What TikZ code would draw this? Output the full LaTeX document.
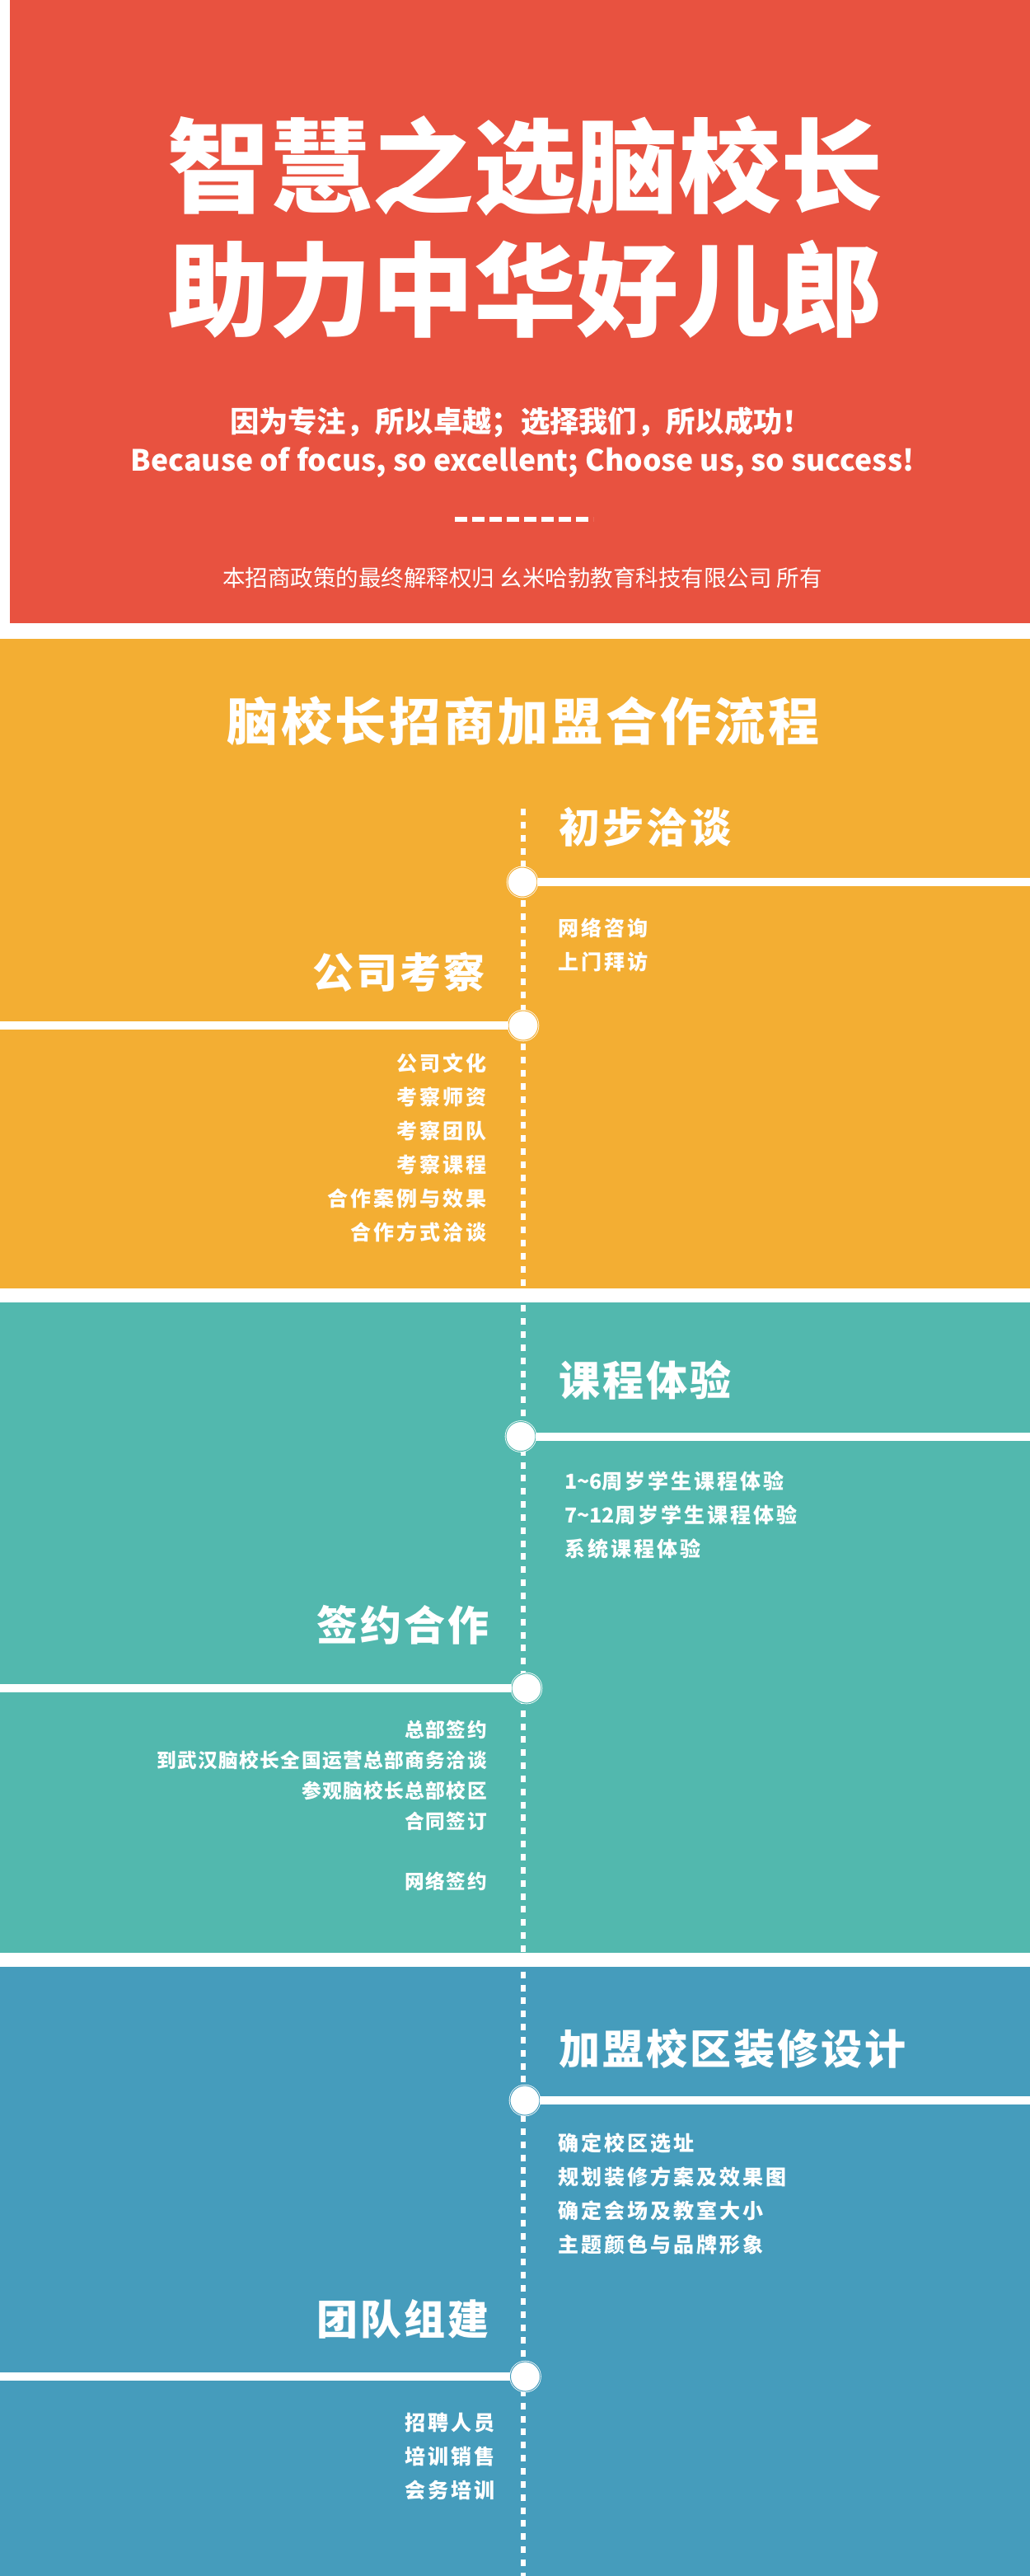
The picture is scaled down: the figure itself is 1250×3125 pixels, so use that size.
\documentclass[tikz,border=0pt]{standalone}
\usepackage{fontspec}
\setmainfont{Noto Sans CJK SC}
\newfontfamily\blackfont{Noto Sans CJK SC Black}
\newfontfamily\lightfont{Noto Sans CJK SC}
\newfontfamily\headfont[LetterSpace=6]{Noto Sans CJK SC Black}
\newfontfamily\itemfont[LetterSpace=12]{Noto Sans CJK SC Black}
\newfontfamily\tightfont[LetterSpace=6]{Noto Sans CJK SC Black}
\definecolor{cred}{HTML}{E85240}
\definecolor{cyellow}{HTML}{F3AE33}
\definecolor{cteal}{HTML}{52B8AE}
\definecolor{cblue}{HTML}{459CBC}

\begin{document}
\begin{tikzpicture}[x=1pt, y=-1pt, inner sep=0pt, text=white,
    stepdot/.style={circle, fill=white, draw=white, line width=.8pt, double=#1, double distance=1pt, minimum size=36pt},
    branch/.style={draw=white, line width=10pt},
    heading/.style={font=\headfont\fontsize{50}{58}\selectfont},
    items/.style={font=\itemfont\fontsize{25}{41}\selectfont, align=left},
    itemsr/.style={font=\itemfont\fontsize{25}{41}\selectfont, align=right}]
    \useasboundingbox (0,0) rectangle (1250,3125);

    % Bands
    \fill [white]   (0,0)    rectangle (1250,3125);
    \fill [cred]    (12,0)   rectangle (1250,756);
    \fill [cyellow] (0,775)  rectangle (1250,1563);
    \fill [cteal]   (0,1580) rectangle (1250,2369);
    \fill [cblue]   (0,2386) rectangle (1250,3125);

    % Header
    \node (title) [font=\blackfont\fontsize{124}{150}\selectfont, align=center] at (637,276) {智慧之选脑校长\\助力中华好儿郎};
    \node (slogan) [font=\blackfont\fontsize{35.3}{42}\selectfont] at (632,512) {因为专注，所以卓越；选择我们，所以成功！};
    \node (sloganen) [font=\blackfont\fontsize{35.5}{42}\selectfont] at (634,561) {Because of focus, so excellent; Choose us, so success!};
    \coordinate (ruleL) at (552,630);
    \coordinate (ruleR) at (720,630);
    \draw [white, line width=6pt, dash pattern=on 15pt off 6pt] (ruleL) -- (ruleR);
    \node (notice) [font=\lightfont\fontsize{27.5}{32}\selectfont] at (634,701) {本招商政策的最终解释权归 幺米哈勃教育科技有限公司 所有};
    \node (flowtitle) [font=\headfont\fontsize{62}{70}\selectfont] at (635,875) {脑校长招商加盟合作流程};

    % Spine
    \coordinate (top) at (635,981);
    \coordinate (bottom) at (635,3125);
    \draw [white, line width=6pt, dash pattern=on 8pt off 7.85pt] (top) -- (bottom);

    % Nodes {p1, p2, p3, p4, p5, p6}
    \node [stepdot=cyellow] (p1) at (634,1070) {};
    \node [stepdot=cyellow] (p2) at (635,1244) {};
    \node [stepdot=cteal]   (p3) at (632,1742.5) {};
    \node [stepdot=cteal]   (p4) at (639,2048) {};
    \node [stepdot=cblue]   (p5) at (637,2548) {};
    \node [stepdot=cblue]   (p6) at (637.5,2883) {};

    % Free ends
    \coordinate (e1) at (1250,1070);
    \coordinate (e2) at (0,1244);
    \coordinate (e3) at (1250,1742.5);
    \coordinate (e4) at (0,2048);
    \coordinate (e5) at (1250,2548);
    \coordinate (e6) at (0,2883);

    % Paths
    \path [branch] (p1) edge (e1);
    \path [branch] (p2) edge (e2);
    \path [branch] (p3) edge (e3);
    \path [branch] (p4) edge (e4);
    \path [branch] (p5) edge (e5);
    \path [branch] (p6) edge (e6);

    % Headings
    \node [heading, anchor=west] (h1) at (678,1003) {初步洽谈};
    \node [heading, anchor=east] (h2) at (589,1179) {公司考察};
    \node [heading, anchor=west] (h3) at (678,1674) {课程体验};
    \node [heading, anchor=east] (h4) at (594,1971) {签约合作};
    \node [heading, anchor=west] (h5) at (678,2485) {加盟校区装修设计};
    \node [heading, anchor=east] (h6) at (594,2813) {团队组建};

    % Items
    \node [items, anchor=north west] (t1) at (677,1114) {网络咨询\\上门拜访};
    \node [itemsr, anchor=north east] (t2) at (591,1278) {公司文化\\考察师资\\考察团队\\考察课程\\合作案例与效果\\合作方式洽谈};
    \node [items, anchor=north west] (t3) at (685,1785) {{\blackfont 1\textasciitilde 6}周岁学生课程体验\\{\blackfont 7\textasciitilde 12}周岁学生课程体验\\系统课程体验};
    \node [itemsr, anchor=north east, font=\tightfont\fontsize{23.7}{36.8}\selectfont] (t4) at (591,2087) {总部签约\\到武汉脑校长全国运营总部商务洽谈\\参观脑校长总部校区\\合同签订\\ \mbox{}\\网络签约};
    \node [items, anchor=north west] (t5) at (677,2588) {确定校区选址\\规划装修方案及效果图\\确定会场及教室大小\\主题颜色与品牌形象};
    \node [itemsr, anchor=north east] (t6) at (601,2927) {招聘人员\\培训销售\\会务培训};

\end{tikzpicture}
\end{document}
